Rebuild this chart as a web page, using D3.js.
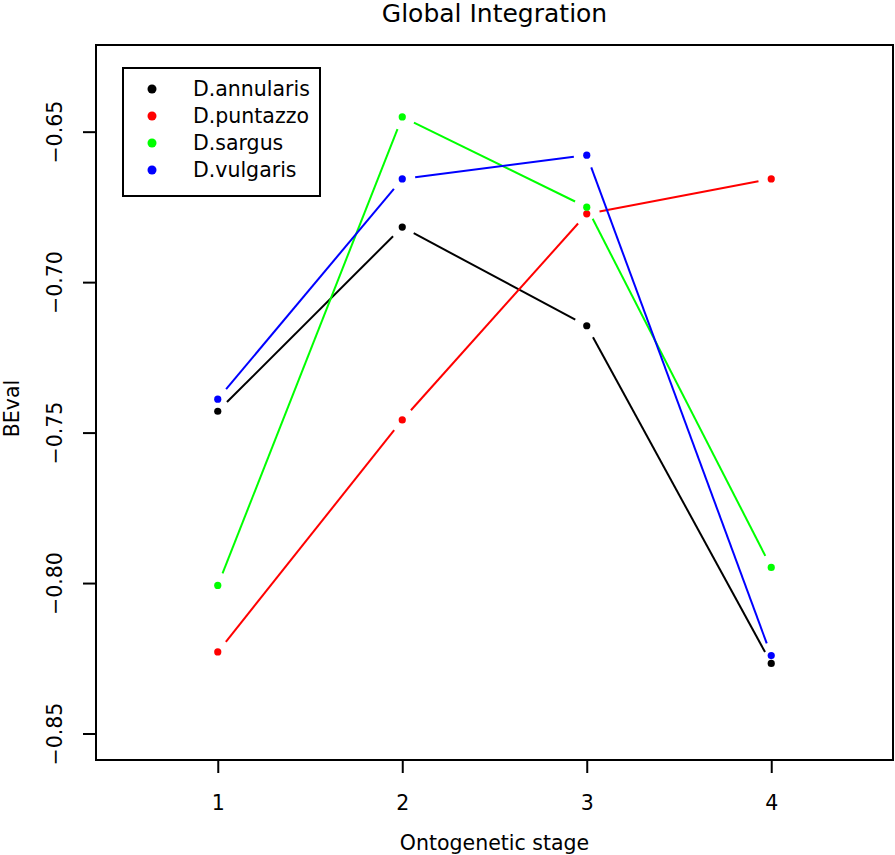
<!DOCTYPE html>
<html><head><meta charset="utf-8">
<script src="https://cdn.jsdelivr.net/npm/d3@7"></script>
<style>body{margin:0;background:#fff}svg{display:block}text{font-family:"DejaVu Sans",sans-serif}</style>
</head><body><svg id="c" width="895" height="855"></svg>
<script>
const stages = [1, 2, 3, 4];
const seriesNames = ["D.annularis", "D.puntazzo", "D.sargus", "D.vulgaris"];
const seriesColors = ["#000000", "#ff0000", "#00ff00", "#0000ff"];
const annularis = [-0.7429, -0.6817, -0.7145, -0.8267];
const puntazzo = [-0.8229, -0.7458, -0.6773, -0.6657];
const sargus = [-0.8008, -0.6451, -0.6751, -0.7948];
const vulgaris = [-0.7389, -0.6657, -0.6578, -0.8241];
const yTicks = [-0.85, -0.80, -0.75, -0.70, -0.65];
const yTickLabels = ["-0.85", "-0.80", "-0.75", "-0.70", "-0.65"];
const xTicks = [1, 2, 3, 4];
const seriesValues = [annularis, puntazzo, sargus, vulgaris];

const L = 96, R = 893, T = 45, B = 760;
const FS = 20.5;
const svg = d3.select("#c");
const x = d3.scaleLinear().domain([0.34, 4.66]).range([L, R]);
const y = d3.scaleLinear().domain([-0.8588, -0.6212]).range([B, T]);

// box
svg.append("rect").attr("x", L).attr("y", T).attr("width", R - L).attr("height", B - T)
  .attr("fill", "none").attr("stroke", "#000").attr("stroke-width", 2);

// y axis
const ya = svg.append("g").attr("transform", `translate(${L},0)`)
  .call(d3.axisLeft(y).tickValues(yTicks).tickSize(13).tickFormat((d, i) => yTickLabels[i].replace("-", "\u2212")));
ya.select(".domain").remove();
ya.selectAll(".tick line").attr("stroke-width", 2);
ya.selectAll(".tick text").attr("font-size", FS).attr("fill", "#000")
  .attr("text-anchor", "middle").attr("x", 0).attr("dy", 0)
  .attr("transform", "translate(-41,0) rotate(-90)").attr("dominant-baseline", "central");

// x axis
const xa = svg.append("g").attr("transform", `translate(0,${B})`)
  .call(d3.axisBottom(x).tickValues(xTicks).tickSize(13).tickFormat(d3.format("d")));
xa.select(".domain").remove();
xa.selectAll(".tick line").attr("stroke-width", 2);
xa.selectAll(".tick text").attr("font-size", FS).attr("fill", "#000")
  .attr("y", 43).attr("dy", 0).attr("dominant-baseline", "central");

// titles
svg.append("text").attr("x", (L + R) / 2).attr("y", 13).attr("text-anchor", "middle")
  .attr("dominant-baseline", "central").attr("font-size", 25).text("Global Integration");
svg.append("text").attr("x", (L + R) / 2).attr("y", 843).attr("text-anchor", "middle")
  .attr("dominant-baseline", "central").attr("font-size", FS).text("Ontogenetic stage");
svg.append("text").attr("transform", `translate(12,${(T + B) / 2 + 6}) rotate(-90)`)
  .attr("text-anchor", "middle").attr("dominant-baseline", "central")
  .attr("font-size", FS).text("BEval");

// series: type "b" (points with gapped segments)
const gap = 13;
seriesValues.forEach((vals, si) => {
  const g = svg.append("g");
  const pts = vals.map((v, i) => [x(stages[i]), y(v)]);
  for (let i = 0; i < pts.length - 1; i++) {
    const [x0, y0] = pts[i], [x1, y1] = pts[i + 1];
    const len = Math.hypot(x1 - x0, y1 - y0);
    if (len <= 2 * gap) continue;
    const ux = (x1 - x0) / len, uy = (y1 - y0) / len;
    g.append("line").attr("x1", x0 + ux * gap).attr("y1", y0 + uy * gap)
      .attr("x2", x1 - ux * gap).attr("y2", y1 - uy * gap)
      .attr("stroke", seriesColors[si]).attr("stroke-width", 2);
  }
  g.selectAll("circle").data(pts).join("circle")
    .attr("cx", d => d[0]).attr("cy", d => d[1]).attr("r", 3.6)
    .attr("fill", seriesColors[si]);
});

// legend
const lg = svg.append("g");
lg.append("rect").attr("x", 123).attr("y", 68).attr("width", 197).attr("height", 128)
  .attr("fill", "#fff").attr("stroke", "#000").attr("stroke-width", 2);
seriesNames.forEach((n, i) => {
  const cy = 89 + i * 27;
  lg.append("circle").attr("cx", 152).attr("cy", cy).attr("r", 4.5).attr("fill", seriesColors[i]);
  lg.append("text").attr("x", 193).attr("y", cy).attr("dominant-baseline", "central")
    .attr("font-size", FS).text(n);
});
</script></body></html>
